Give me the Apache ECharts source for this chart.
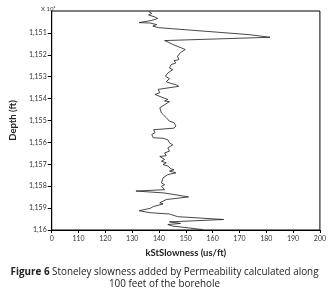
<!DOCTYPE html>
<html>
<head>
<meta charset="utf-8">
<script src="https://cdn.jsdelivr.net/npm/echarts@6/dist/echarts.min.js"></script>
<style>
  html, body { margin: 0; padding: 0; background: #fff; }
  #chart { width: 329px; height: 298px; }
</style>
</head>
<body>
<div id="chart"></div>
<script>
// depth (x10 ft) and Stoneley slowness
const depth = [
  1150.02, 1150.11, 1150.18, 1150.27, 1150.34, 1150.43, 1150.53, 1150.55, 1150.62, 1150.69,
  1150.76, 1150.85, 1151.08, 1151.20, 1151.35, 1151.42, 1151.53, 1151.62, 1151.76, 1151.90,
  1152.07, 1152.22, 1152.27, 1152.37, 1152.45, 1152.60, 1152.68, 1152.83, 1152.98, 1153.09,
  1153.23, 1153.32, 1153.36, 1153.44, 1153.58, 1153.73, 1153.81, 1153.96, 1154.04, 1154.11,
  1154.14, 1154.42, 1154.65, 1154.72, 1154.87, 1155.03, 1155.10, 1155.25, 1155.35, 1155.42,
  1155.56, 1155.64, 1155.79, 1155.81, 1155.88, 1156.02, 1156.11, 1156.25, 1156.40, 1156.48,
  1156.61, 1156.64, 1156.78, 1156.86, 1156.93, 1157.01, 1157.08, 1157.21, 1157.25, 1157.31,
  1157.39, 1157.47, 1157.62, 1157.85, 1157.93, 1158.00, 1158.16, 1158.22, 1158.31, 1158.49,
  1158.61, 1158.76, 1158.81, 1158.93, 1159.01, 1159.12, 1159.21, 1159.27, 1159.39, 1159.52,
  1159.63, 1159.70, 1159.75, 1159.82, 1159.98
];
const slowness = [
  136.1, 137.3, 136.1, 138.4, 139.5, 137.3, 132.6, 136.7, 139.1, 137.7,
  139.8, 140.5, 173.6, 181.4, 142.1, 143.4, 145.2, 147.0, 149.8, 148.0,
  146.9, 147.4, 145.6, 146.3, 144.5, 143.9, 145.1, 143.3, 142.4, 143.9,
  142.7, 144.8, 146.3, 147.3, 139.7, 140.3, 138.5, 141.5, 143.3, 142.1,
  143.9, 140.3, 140.9, 140.3, 142.7, 143.9, 145.6, 146.3, 145.6, 138.0,
  138.5, 137.3, 137.9, 141.5, 143.3, 143.9, 145.1, 143.3, 143.9, 142.1,
  142.7, 140.3, 142.1, 140.9, 142.7, 141.5, 143.3, 144.5, 145.6, 143.9,
  146.3, 143.3, 141.5, 140.9, 142.1, 140.9, 142.1, 131.4, 142.1, 151.0,
  142.7, 140.3, 141.5, 137.9, 136.7, 132.6, 136.7, 143.9, 146.9, 164.1,
  143.9, 148.0, 143.3, 145.1, 156.3
];

const depthTicks = [1151, 1152, 1153, 1154, 1155, 1156, 1157, 1158, 1159, 1160];
const depthTickLabels = ['1,151', '1,152', '1,153', '1,154', '1,155', '1,156', '1,157', '1,158', '1,159', '1,16'];
const slownessTicks = [100, 110, 120, 130, 140, 150, 160, 170, 180, 190, 200];
const slownessTickLabels = ['0', '110', '120', '130', '140', '150', '160', '170', '180', '190', '200'];

const font = 'Lato, "Open Sans", sans-serif';
const capFont = '"Open Sans", Lato, sans-serif';
const chart = echarts.init(document.getElementById('chart'));

chart.setOption({
  animation: false,
  textStyle: { fontFamily: font },
  grid: {
    left: 40.5,
    right: 9,
    top: 11,
    bottom: 68,
    show: true,
    borderColor: '#000',
    borderWidth: 1
  },
  title: [
    {
      text: 'X 10⁴',
      left: 36,
      top: 1,
      textStyle: { fontSize: 6, fontWeight: 'normal', color: '#333', fontFamily: font }
    },
    {
      text: '{b|Figure 6} Stoneley slowness added by Permeability calculated along',
      left: 'center',
      top: 267,
      padding: 0,
      textStyle: {
        fontSize: 9.9,
        fontWeight: 'normal',
        color: '#222',
        fontFamily: capFont,
        rich: { b: { fontWeight: 'bold', fontSize: 9.9, color: '#222', fontFamily: capFont } }
      }
    },
    {
      text: '100 feet of the borehole',
      left: 'center',
      top: 279,
      padding: 0,
      textStyle: { fontSize: 9.9, fontWeight: 'normal', color: '#222', fontFamily: capFont }
    }
  ],
  xAxis: {
    type: 'value',
    min: 100,
    max: 200,
    interval: 10,
    name: 'kStSlowness (us/ft)',
    nameLocation: 'middle',
    nameGap: 18,
    nameTextStyle: { fontSize: 9.5, color: '#222', fontWeight: 'bold' },
    axisLine: { show: true, lineStyle: { color: '#000', width: 1 } },
    axisTick: { show: true, length: 3, lineStyle: { color: '#000' } },
    splitLine: { show: false },
    axisLabel: {
      fontSize: 7,
      color: '#333',
      margin: 5,
      formatter: v => {
        const i = slownessTicks.indexOf(v);
        return i >= 0 ? slownessTickLabels[i] : '';
      }
    }
  },
  yAxis: {
    type: 'value',
    inverse: true,
    min: 1150,
    max: 1160,
    interval: 1,
    name: 'Depth (ft)',
    nameLocation: 'middle',
    nameGap: 30,
    nameRotate: 90,
    nameTextStyle: { fontSize: 9.5, color: '#222', fontWeight: 'bold' },
    axisLine: { show: true, lineStyle: { color: '#000', width: 1 } },
    axisTick: { show: true, length: 4, lineStyle: { color: '#000' } },
    splitLine: { show: false },
    axisLabel: {
      fontSize: 7,
      color: '#333',
      margin: 5,
      showMinLabel: false,
      formatter: v => {
        const i = depthTicks.indexOf(v);
        return i >= 0 ? depthTickLabels[i] : '';
      }
    }
  },
  series: [{
    type: 'line',
    showSymbol: false,
    lineStyle: { color: '#1a1a1a', width: 0.8 },
    data: depth.map((d, i) => [slowness[i], d])
  }]
});
</script>
</body>
</html>
